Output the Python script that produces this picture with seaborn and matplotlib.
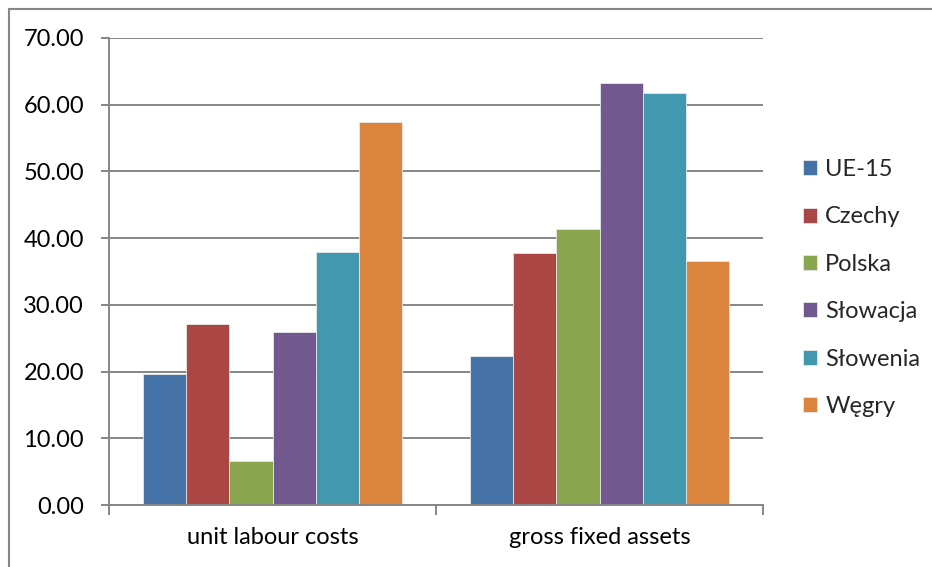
import numpy as np
import pandas as pd
import matplotlib
matplotlib.use("Agg")
import matplotlib.pyplot as plt
from matplotlib.lines import Line2D
from matplotlib.ticker import FixedLocator
import seaborn as sns

# data
categories = ["unit labour costs", "gross fixed assets"]
countries = ["UE-15", "Czechy", "Polska", "Słowacja", "Słowenia", "Węgry"]
unit_labour_costs = [19.6, 27.2, 6.6, 25.9, 37.9, 57.4]
gross_fixed_assets = [22.3, 37.7, 41.3, 63.2, 61.8, 36.5]
y_ticks = [0, 10, 20, 30, 40, 50, 60, 70]

colors = ["#4572A7", "#AA4643", "#89A54E", "#71588F", "#4198AF", "#DB843D"]

df = pd.DataFrame({
    "category": [categories[0]] * len(countries) + [categories[1]] * len(countries),
    "country": countries * 2,
    "value": unit_labour_costs + gross_fixed_assets,
})

sns.set_theme(style="white")
plt.rcParams["font.family"] = ["Lato", "DejaVu Sans"]
FS = 17

fig = plt.figure(figsize=(9.32, 5.67), dpi=100)
ax = fig.add_axes([109 / 932, 62 / 567, 654 / 932, 467 / 567])

sns.barplot(data=df, x="category", y="value", hue="country", order=categories,
            hue_order=countries, palette=colors, width=0.79, saturation=1,
            edgecolor="#e8e8e8", linewidth=0.6, ax=ax, legend=True)

grid_c = "#868686"
ax.set_ylim(0, 70)
ax.set_xlim(-0.5, 1.5)
ax.set_yticks(y_ticks)
ax.set_yticklabels([f"{v:.2f}" for v in y_ticks], fontsize=FS)
ax.yaxis.grid(True, color=grid_c, linewidth=1.4)
ax.set_axisbelow(True)
ax.tick_params(axis="y", length=6, width=1.4, color=grid_c, direction="out",
               left=True, pad=12, labelcolor="black")

# category labels centered, tick marks on the group boundaries
ax.tick_params(axis="x", which="major", length=0, pad=16, labelsize=FS, labelcolor="black")
ax.xaxis.set_minor_locator(FixedLocator([-0.5, 0.5, 1.5]))
ax.tick_params(axis="x", which="minor", length=7, width=1.4, color=grid_c,
               direction="out", bottom=True)
ax.set_xlabel("")
ax.set_ylabel("")

for side in ["top", "right"]:
    ax.spines[side].set_visible(False)
for side in ["left", "bottom"]:
    ax.spines[side].set_color(grid_c)
    ax.spines[side].set_linewidth(1.4)

handles, labels = ax.get_legend_handles_labels()
ax.get_legend().remove()
leg = fig.legend(handles, labels, loc="center left", bbox_to_anchor=(791 / 932, 1 - 288 / 567),
                 frameon=False, fontsize=FS, handlelength=0.6, handleheight=0.6,
                 handletextpad=0.35, labelspacing=1.12, borderpad=0)

# chart border (cut off on right and bottom in the reference)
fig.add_artist(Line2D([9 / 932, 1], [1 - 9 / 567, 1 - 9 / 567], color=grid_c, linewidth=1.5,
                      transform=fig.transFigure))
fig.add_artist(Line2D([9 / 932, 9 / 932], [0, 1 - 9 / 567], color=grid_c, linewidth=1.5,
                      transform=fig.transFigure))

fig.savefig("out.png", dpi=100, facecolor="white")
